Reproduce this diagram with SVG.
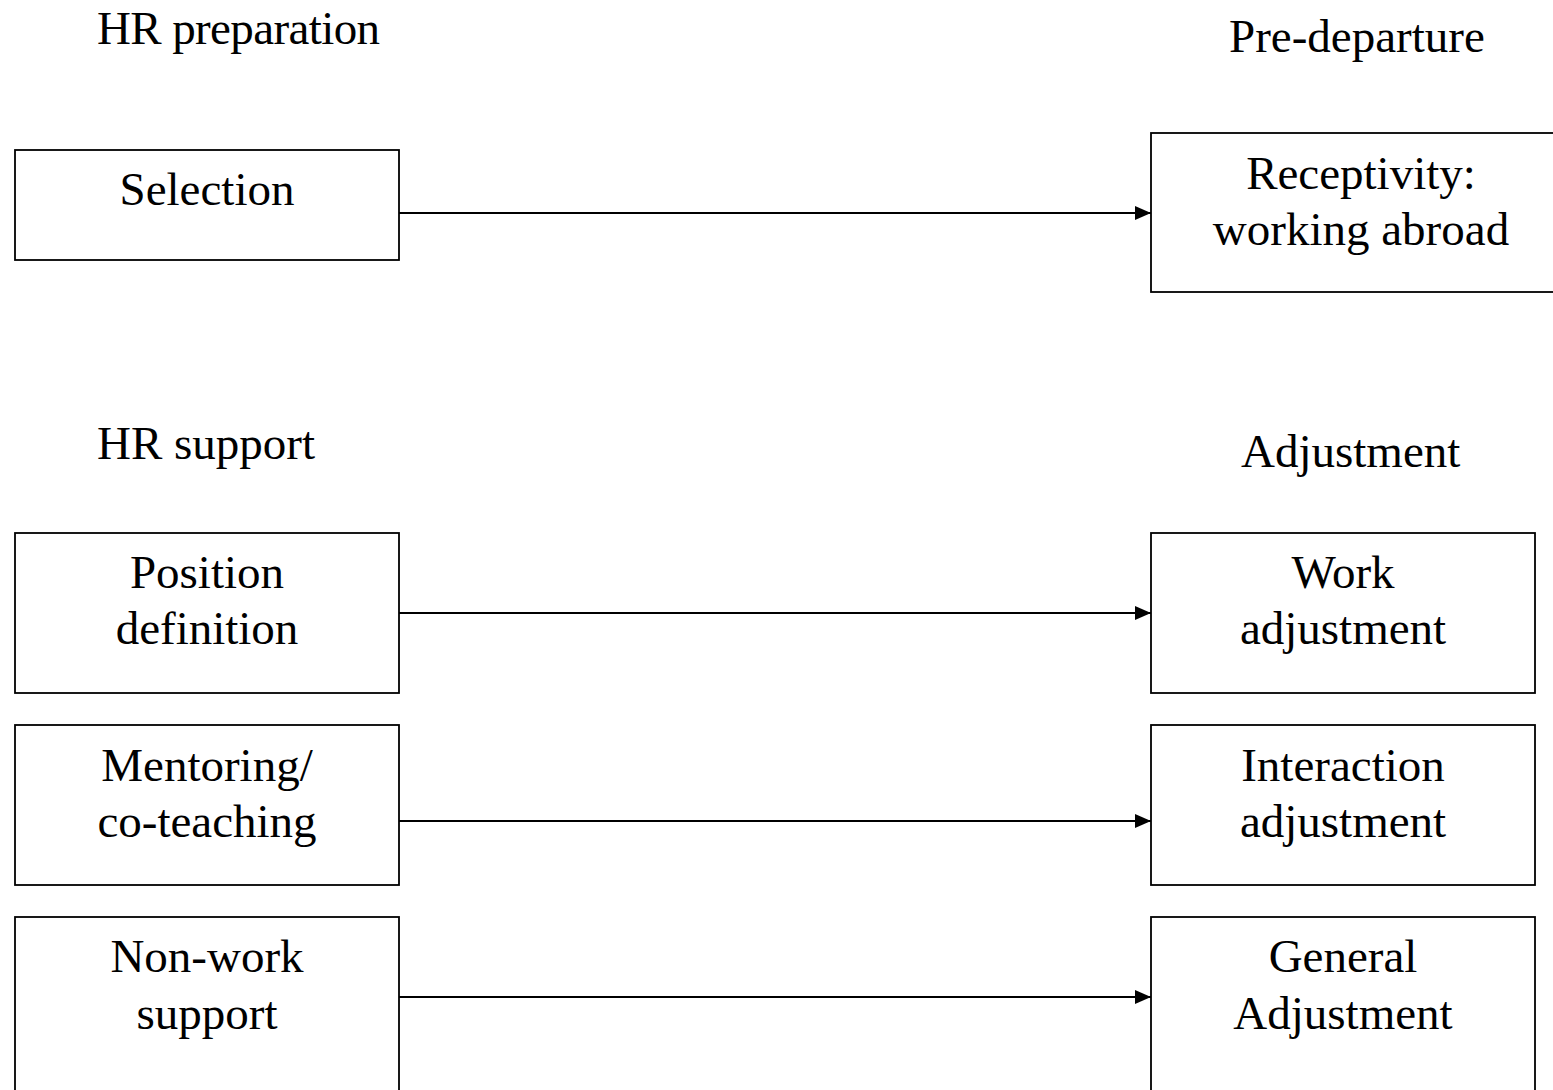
<svg xmlns="http://www.w3.org/2000/svg" width="1553" height="1090" viewBox="0 0 1553 1090">
<style>
.box{fill:#fff;stroke:#000;stroke-width:1.8}
.t{font-family:"Liberation Serif","Times New Roman",serif;font-size:47px;fill:#000}
.c{text-anchor:middle}
.edge{stroke:#000;stroke-width:1.8;fill:none;marker-end:url(#arr)}
</style>
<defs>
<marker id="arr" markerUnits="userSpaceOnUse" markerWidth="18" markerHeight="16" refX="16" refY="8" orient="auto">
<path d="M0,1 L16,8 L0,15 Z" fill="#000"/>
</marker>
</defs>
<rect width="1553" height="1090" fill="#fff"/>
<g id="headers">
<text class="t" x="97" y="44" textLength="283">HR preparation</text>
<text class="t" x="1229" y="52">Pre-departure</text>
<text class="t" x="97" y="459">HR support</text>
<text class="t" x="1241" y="467">Adjustment</text>
</g>
<g id="connectors">
<line class="edge" x1="399" y1="213" x2="1151" y2="213"/>
<line class="edge" x1="399" y1="613" x2="1151" y2="613"/>
<line class="edge" x1="399" y1="821" x2="1151" y2="821"/>
<line class="edge" x1="399" y1="997" x2="1151" y2="997"/>
</g>
<g id="selection">
<rect class="box" x="15" y="150" width="384" height="110"/>
<text class="t c" x="207" y="205">Selection</text>
</g>
<g id="receptivity">
<rect class="box" x="1151" y="133" width="420" height="159"/>
<text class="t c" x="1361" y="189">Receptivity:</text>
<text class="t c" x="1361" y="245">working abroad</text>
</g>
<g id="position">
<rect class="box" x="15" y="533" width="384" height="160"/>
<text class="t c" x="207" y="588">Position</text>
<text class="t c" x="207" y="644">definition</text>
</g>
<g id="work">
<rect class="box" x="1151" y="533" width="384" height="160"/>
<text class="t c" x="1343" y="588">Work</text>
<text class="t c" x="1343" y="644">adjustment</text>
</g>
<g id="mentoring">
<rect class="box" x="15" y="725" width="384" height="160"/>
<text class="t c" x="207" y="781">Mentoring/</text>
<text class="t c" x="207" y="837">co-teaching</text>
</g>
<g id="interaction">
<rect class="box" x="1151" y="725" width="384" height="160"/>
<text class="t c" x="1343" y="781">Interaction</text>
<text class="t c" x="1343" y="837">adjustment</text>
</g>
<g id="nonwork">
<rect class="box" x="15" y="917" width="384" height="190"/>
<text class="t c" x="207" y="972">Non-work</text>
<text class="t c" x="207" y="1029">support</text>
</g>
<g id="general">
<rect class="box" x="1151" y="917" width="384" height="190"/>
<text class="t c" x="1343" y="972">General</text>
<text class="t c" x="1343" y="1029">Adjustment</text>
</g>
</svg>
